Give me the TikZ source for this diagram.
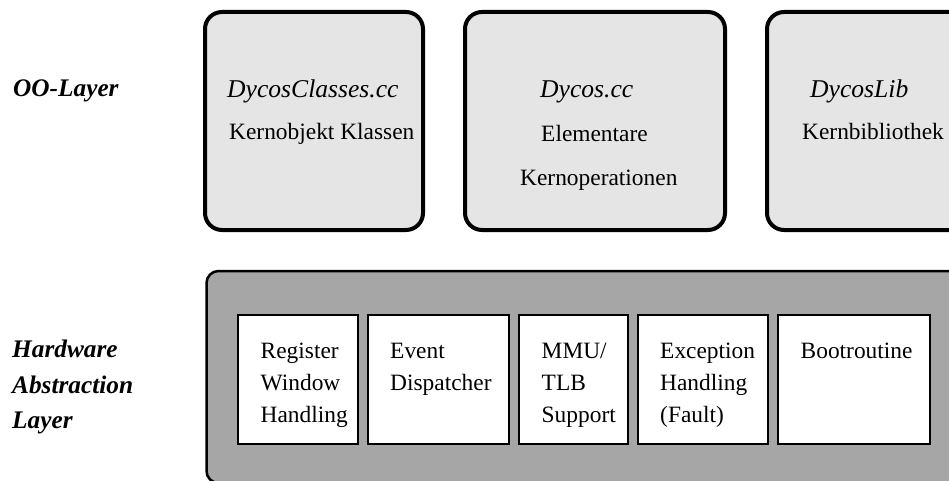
\documentclass[tikz,border=0pt]{standalone}
\usepackage{fontspec}
\setmainfont{Liberation Serif}
\begin{document}
\begin{tikzpicture}[x=1pt,y=-1pt,
  txt/.style={anchor=base west, inner sep=0pt, font=\fontsize{23.4}{28}\selectfont},
  itxt/.style={txt, font=\fontsize{25.6}{30}\selectfont\itshape},
  layerlabel/.style={txt, font=\fontsize{25.3}{30}\selectfont\bfseries\itshape},
  modbox/.style={draw=black, line width=4pt, fill=black!10, rounded corners=17pt,
    inner sep=0pt, minimum height=218pt},
  halbox/.style={draw=black, line width=2.5pt, fill=black!35, rounded corners=12pt,
    inner sep=0pt},
  unitbox/.style={draw=black, line width=2pt, fill=white, inner sep=0pt,
    minimum height=129pt}]
\useasboundingbox (0,0) rectangle (949,481);
\clip (0,0) rectangle (949,481);

% layer captions
\node[layerlabel] (oo) at (13,97) {OO-Layer};
\node[layerlabel] (hw1) at (12,357) {Hardware};
\node[layerlabel] (hw2) at (12,393) {Abstraction};
\node[layerlabel] (hw3) at (12,428) {Layer};

% OO layer modules
\node[modbox, minimum width=218pt] (m1) at (314,121) {};
\node[modbox, minimum width=260pt] (m2) at (595,121) {};
\node[modbox, minimum width=260pt] (m3) at (897,121) {};

\node[itxt] (m1a) at (227,98) {DycosClasses.cc};
\node[txt]  (m1b) at (229,140) {Kernobjekt Klassen};
\node[itxt] (m2a) at (540,98) {Dycos.cc};
\node[txt]  (m2b) at (541,141.5) {Elementare};
\node[txt]  (m2c) at (520,185) {Kernoperationen};
\node[itxt] (m3a) at (810,98) {DycosLib};
\node[txt]  (m3b) at (802,140) {Kernbibliothek};

% hardware abstraction layer
\node[halbox, minimum width=800pt, minimum height=212pt] (hal) at (606.5,377) {};

\node[unitbox, minimum width=120pt] (u1) at (298,379.5) {};
\node[unitbox, minimum width=141pt] (u2) at (438.5,379.5) {};
\node[unitbox, minimum width=109pt] (u3) at (573.5,379.5) {};
\node[unitbox, minimum width=130pt] (u4) at (703,379.5) {};
\node[unitbox, minimum width=152pt] (u5) at (854,379.5) {};

\node[txt] (u1a) at (260.5,358) {Register};
\node[txt] (u1b) at (260.5,390) {Window};
\node[txt] (u1c) at (260.5,422) {Handling};
\node[txt] (u2a) at (390,358) {Event};
\node[txt] (u2b) at (390,390) {Dispatcher};
\node[txt] (u3a) at (541.5,358) {MMU/};
\node[txt] (u3b) at (541.5,390) {TLB};
\node[txt] (u3c) at (541.5,422) {Support};
\node[txt] (u4a) at (660,358) {Exception};
\node[txt] (u4b) at (660,390) {Handling};
\node[txt] (u4c) at (660,422) {(Fault)};
\node[txt] (u5a) at (800.5,358) {Bootroutine};
\end{tikzpicture}
\end{document}
